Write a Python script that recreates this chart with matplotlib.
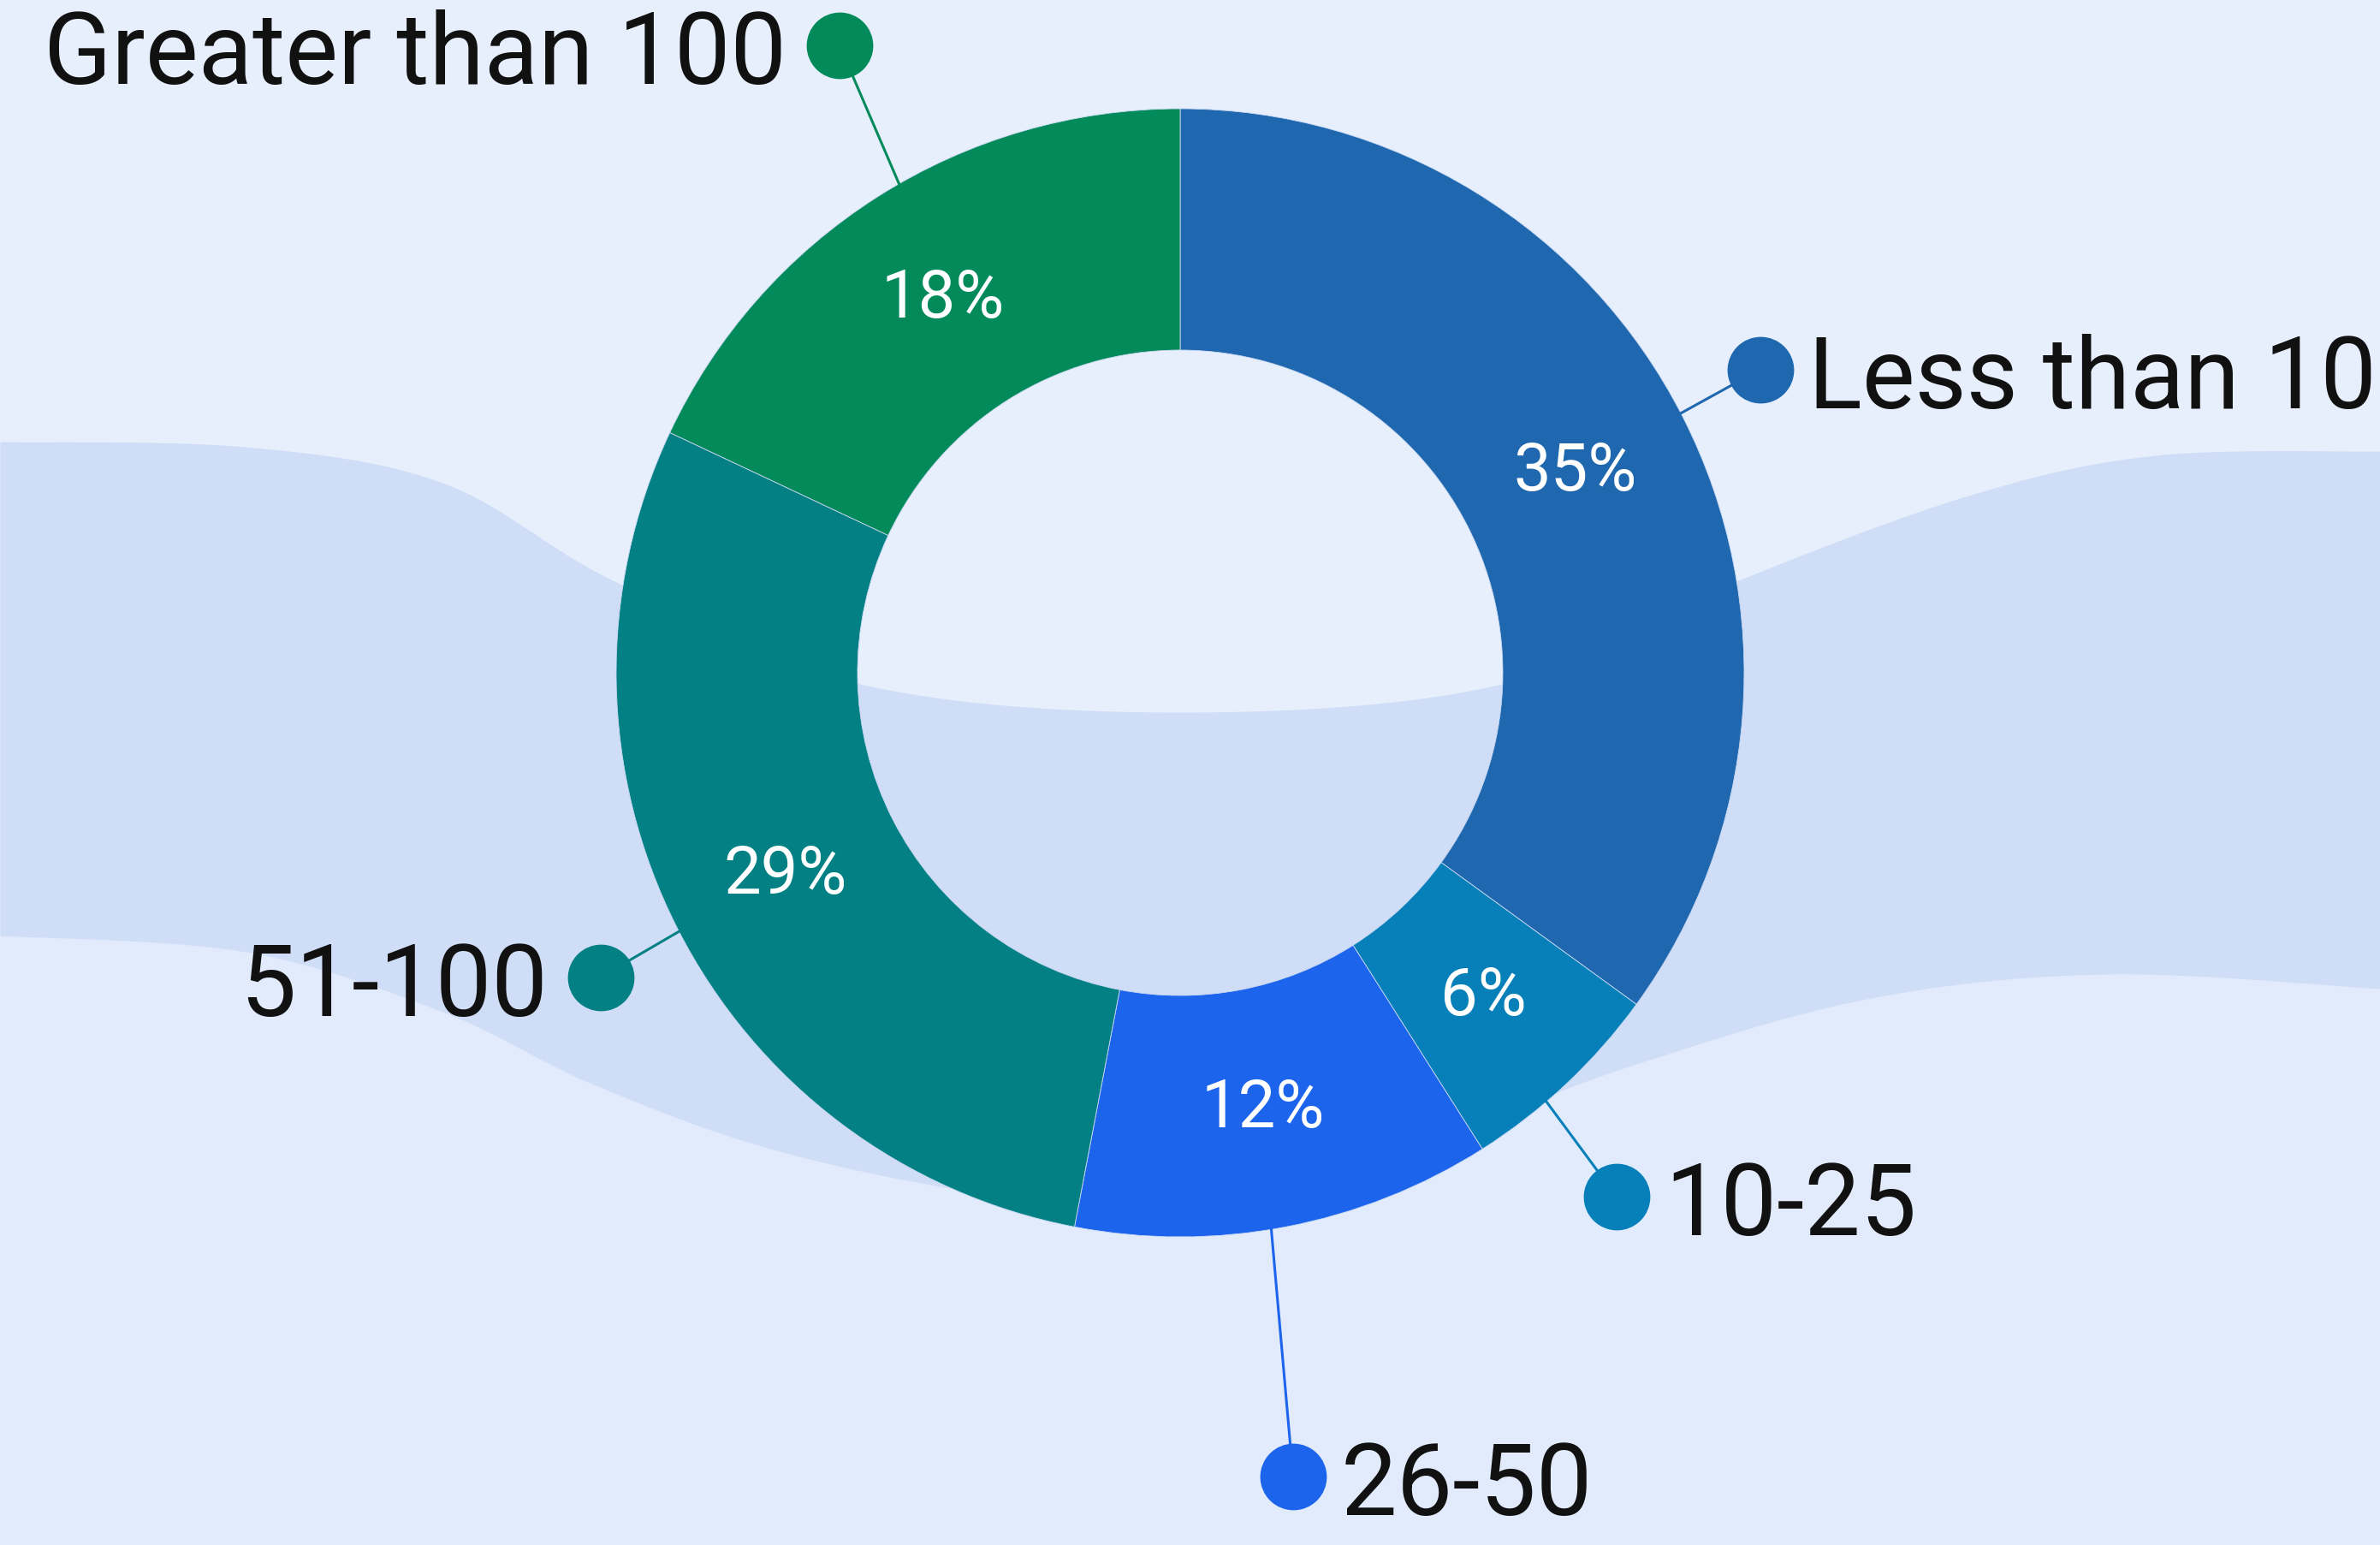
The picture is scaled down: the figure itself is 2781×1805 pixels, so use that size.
import numpy as np
import matplotlib
matplotlib.use("Agg")
from matplotlib import pyplot as plt

# Share of respondents by group size
categories = ["Less than 10", "10-25", "26-50", "51-100", "Greater than 100"]
shares = [35, 6, 12, 29, 18]
colors = ["#1f67ae", "#0780ba", "#1c64ec", "#038084", "#038a5a"]

# Callout layout: dot distance from centre and angle tweaks (degrees)
dot_radius = [765, 797, 948, 765, 834]
line_start_off = [0.4, -2.7, -1.5, 0.3, -2.5]
dot_angle_off = [0.6, -3.4, -2.8, 0.7, -3.9]

W, H = 2781, 1806
cx, cy = 1379, H - 787
r_out, r_in = 659, 377

plt.rcParams['font.family'] = ['Roboto', 'DejaVu Sans']

fig = plt.figure(figsize=(W / 100, H / 100), dpi=100)
fig.patch.set_facecolor("#e7effc")
ax = fig.add_axes([0, 0, 1, 1])


def catmull(pts, n=40):
    # smooth curve through the control points
    pts = np.asarray(pts, float)
    p = np.vstack([pts[0], pts, pts[-1]])
    out = []
    t = np.linspace(0, 1, n, endpoint=False)[:, None]
    for i in range(1, len(p) - 2):
        p0, p1, p2, p3 = p[i - 1], p[i], p[i + 1], p[i + 2]
        seg = 0.5 * ((2 * p1) + (-p0 + p2) * t + (2 * p0 - 5 * p1 + 4 * p2 - p3) * t ** 2
                     + (-p0 + 3 * p1 - 3 * p2 + p3) * t ** 3)
        out.append(seg)
    out.append(p[-2][None, :])
    return np.vstack(out)


# background wave band
top_edge = [(0, 517), (287, 523), (517, 565), (718, 680), (1005, 800), (1380, 833),
            (1755, 800), (2029, 680), (2300, 580), (2518, 533), (2781, 528)]
bot_edge = [(0, 1094), (287, 1113), (517, 1183), (689, 1266), (900, 1343), (1150, 1395),
            (1380, 1410), (1650, 1340), (1900, 1248), (2181, 1168), (2462, 1139), (2781, 1156)]
top = catmull(top_edge)
bot = catmull(bot_edge)
xs = np.linspace(0, W, 600)
ytop = H - np.interp(xs, top[:, 0], top[:, 1])
ybot = H - np.interp(xs, bot[:, 0], bot[:, 1])
ax.fill_between(xs, 0, ybot, color="#e2ebfc", lw=0, zorder=0)
ax.fill_between(xs, ybot, ytop, color="#cfddf7", lw=0, zorder=1)

wedges, _ = ax.pie(shares, colors=colors, startangle=90, counterclock=False,
                   radius=r_out, center=(cx, cy), frame=True,
                   wedgeprops=dict(width=r_out - r_in, edgecolor="#c9d9f2", linewidth=0.6))
for w in wedges:
    w.set_zorder(3)

total = sum(shares)
start = 90.0
for i, (name, v) in enumerate(zip(categories, shares)):
    span = v / total * 360
    mid = start - span / 2
    start -= span

    # percentage inside the ring
    a = np.radians(mid)
    rm = (r_out + r_in) / 2
    ax.text(cx + rm * np.cos(a), cy + rm * np.sin(a), f"{v}%", color="white",
            fontsize=56, ha="center", va="center", zorder=5)

    # leader line and dot
    a0 = np.radians(mid + line_start_off[i])
    a1 = np.radians(mid + dot_angle_off[i])
    x0, y0 = cx + r_out * np.cos(a0), cy + r_out * np.sin(a0)
    x1, y1 = cx + dot_radius[i] * np.cos(a1), cy + dot_radius[i] * np.sin(a1)
    ax.plot([x0, x1], [y0, y1], color=colors[i], lw=2.2, zorder=4)
    ax.plot(x1, y1, "o", ms=56, color=colors[i], mec="none", zorder=5)

    if x1 > cx:
        ax.text(x1 + 56, y1, name, fontsize=84, ha="left", va="center_baseline",
                color="#111111", zorder=5)
    else:
        ax.text(x1 - 62, y1, name, fontsize=84, ha="right", va="center_baseline",
                color="#111111", zorder=5)

ax.set_xlim(0, W)
ax.set_ylim(0, H)
ax.set_aspect("equal")
ax.axis("off")

plt.savefig("out.png", dpi=100, facecolor=fig.get_facecolor())
